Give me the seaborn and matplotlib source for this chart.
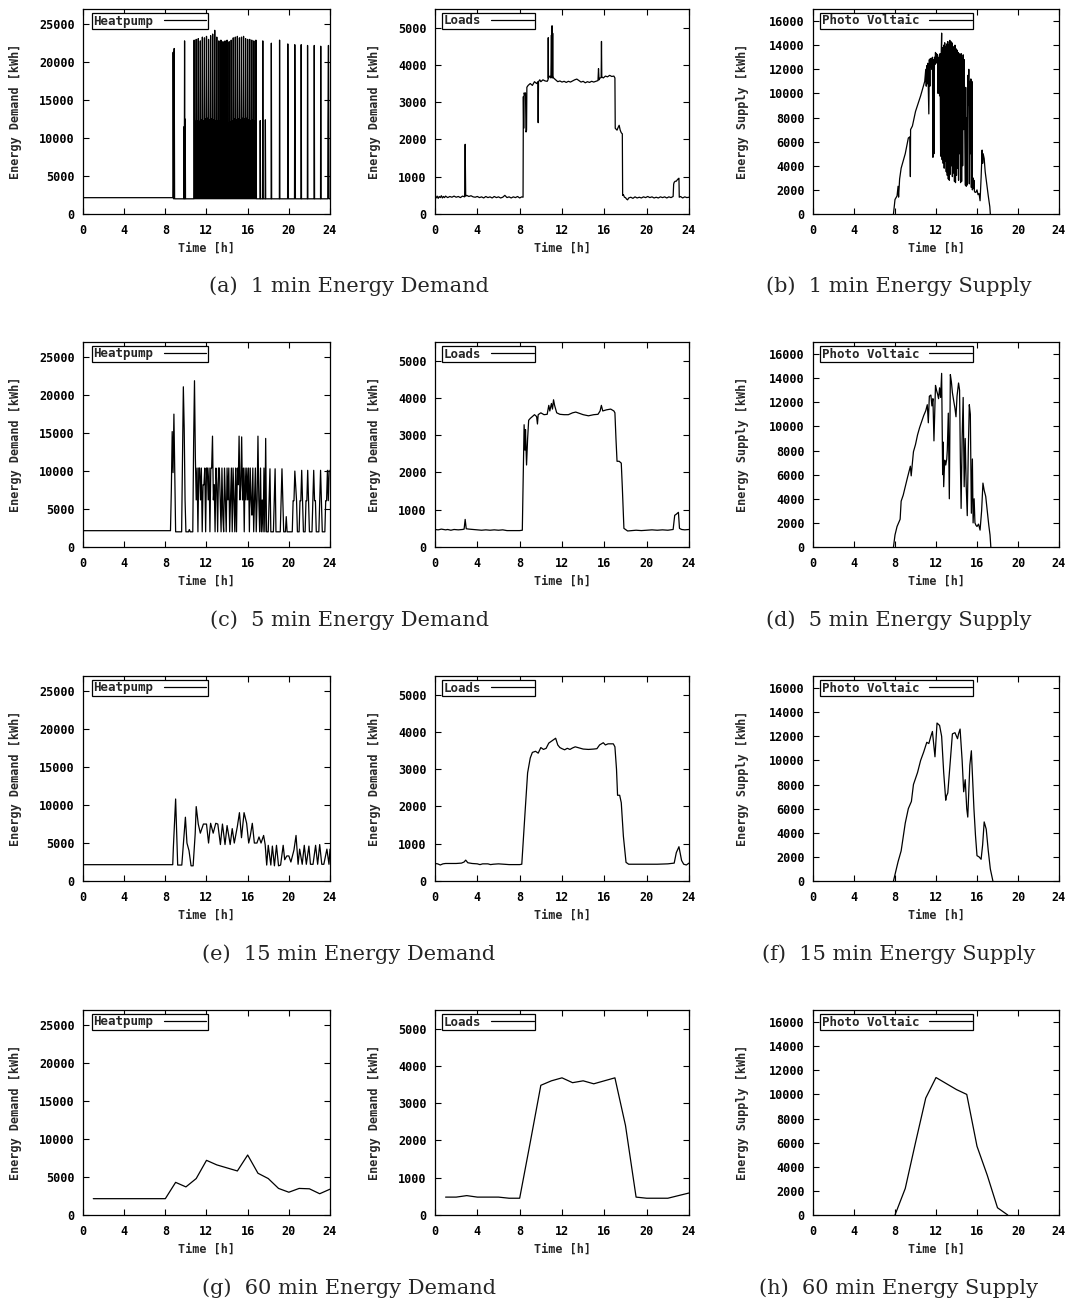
import numpy as np
import matplotlib
matplotlib.use("Agg")
import matplotlib.pyplot as plt
import seaborn as sns

# ---------------- data ----------------
time_ticks = [0, 4, 8, 12, 16, 20, 24]
hp_yticks = [0, 5000, 10000, 15000, 20000, 25000]
ld_yticks = [0, 1000, 2000, 3000, 4000, 5000]
pv_yticks = [0, 2000, 4000, 6000, 8000, 10000, 12000, 14000, 16000]
hp_ymax, ld_ymax, pv_ymax = 27000, 5500, 17000

series_labels = ["Heatpump", "Loads", "Photo Voltaic"]
ylabels = ["Energy Demand [kWh]", "Energy Demand [kWh]", "Energy Supply [kWh]"]
xlabel = "Time [h]"
captions_left = ["(a)  1 min Energy Demand", "(c)  5 min Energy Demand",
                 "(e)  15 min Energy Demand", "(g)  60 min Energy Demand"]
captions_right = ["(b)  1 min Energy Supply", "(d)  5 min Energy Supply",
                  "(f)  15 min Energy Supply", "(h)  60 min Energy Supply"]

# ---- 1 min heat pump ----
hp1_pre_t = [0.0, 8.74, 8.76, 8.80, 8.86, 8.90, 9.80, 9.82, 9.84, 9.87, 9.90, 9.93, 9.96, 10.76]
hp1_pre_v = [2150, 2150, 21300, 2000, 21800, 2000, 2000, 11500, 2000, 22800, 2000, 12500, 2000, 2000]
hp1_dense_start, hp1_dense_step = 10.80, 0.05
hp1_dense_v = [
    22900, 2000, 12200, 2000, 23000, 2000, 12300, 2000, 23100, 2000, 12200, 2000,
    22800, 2000, 12400, 2000, 23300, 2000, 12300, 2000, 23200, 2000, 12500, 2000,
    23400, 2000, 12600, 2000, 23000, 2000, 12400, 2000, 23500, 2000, 12500, 2000,
    23700, 2000, 12400, 2000, 24200, 2000, 12300, 2000, 23300, 2000, 12300, 2000,
    22800, 2000, 12200, 2000, 22900, 2000, 12400, 2000, 22700, 2000, 12300, 2000,
    22800, 2000, 12100, 2000, 22900, 2000, 12000, 2000, 22700, 2000, 12100, 2000,
    22900, 2000, 12300, 2000, 23200, 2000, 12500, 2000, 23300, 2000, 12400, 2000,
    23400, 2000, 12500, 2000, 23200, 2000, 12400, 2000, 23300, 2000, 12600, 2000,
    23400, 2000, 12500, 2000, 23100, 2000, 12600, 2000, 23000, 2000, 12400, 2000,
    23000, 2000, 12300, 2000, 22900, 2000, 12400, 2000, 22800, 2000, 12300, 2000,
    22900]
hp1_post_t = [16.85, 17.20, 17.22, 17.25, 17.45, 17.47, 17.50, 17.70, 17.72, 17.75,
              18.28, 18.30, 18.33, 19.08, 19.10, 19.13, 19.88, 19.90, 19.93, 19.96,
              20.55, 20.58, 20.61, 20.64, 21.18, 21.20, 21.23, 21.80, 21.82, 21.85,
              22.45, 22.47, 22.50, 23.08, 23.10, 23.13, 23.78, 23.80, 23.85, 23.90, 23.98]
hp1_post_v = [2000, 2000, 12300, 2000, 2000, 22800, 2000, 2000, 12400, 2000,
              2000, 22500, 2000, 2000, 22900, 2000, 2000, 22400, 12000, 2000,
              2000, 22300, 11800, 2000, 2000, 22300, 2000, 2000, 22200, 2000,
              2000, 22200, 2000, 2000, 22100, 2000, 2000, 12100, 22200, 2000, 2000]

# ---- 1 min loads ----
ld1_t = [0.0, 0.1, 0.2, 0.3, 0.4, 0.5, 0.6, 0.7, 0.8, 0.9, 1.0, 1.2, 1.4, 1.6, 1.8, 2.0,
         2.2, 2.4, 2.6, 2.8, 2.85, 2.9, 3.0, 3.2, 3.4, 3.6, 3.8, 4.0, 4.2, 4.4, 4.6, 4.8,
         5.0, 5.2, 5.4, 5.6, 5.8, 6.0, 6.2, 6.4, 6.6, 6.8, 7.0, 7.2, 7.4, 7.6, 7.8, 8.0,
         8.2, 8.32, 8.35, 8.38, 8.42, 8.5, 8.55, 8.6, 8.65, 8.68, 8.8, 9.0, 9.2, 9.4, 9.6,
         9.72, 9.75, 9.78, 9.9, 10.0, 10.2, 10.4, 10.6, 10.68, 10.7, 10.72, 10.85, 10.95,
         11.0, 11.03, 11.06, 11.09, 11.12, 11.15, 11.2, 11.4, 11.6, 11.8, 12.0, 12.2, 12.4,
         12.6, 12.8, 13.0, 13.2, 13.4, 13.6, 13.8, 14.0, 14.2, 14.4, 14.6, 14.8, 15.0, 15.2,
         15.4, 15.45, 15.5, 15.6, 15.7, 15.73, 15.76, 15.9, 16.1, 16.3, 16.5, 16.7, 16.9,
         17.0, 17.03, 17.1, 17.2, 17.3, 17.4, 17.5, 17.6, 17.7, 17.73, 17.8, 17.9, 18.0,
         18.1, 18.2, 18.3, 18.5, 18.7, 18.9, 19.1, 19.3, 19.5, 19.7, 19.9, 20.1, 20.3, 20.5,
         20.7, 20.9, 21.1, 21.3, 21.5, 21.7, 21.9, 22.1, 22.3, 22.5, 22.55, 22.6, 22.7, 22.8,
         22.9, 23.0, 23.05, 23.08, 23.2, 23.4, 23.6, 23.8, 24.0]
ld1_v = [470, 430, 480, 420, 470, 440, 490, 430, 470, 440, 480, 440, 470, 450, 480, 450,
         470, 440, 480, 460, 1870, 480, 500, 470, 490, 460, 450, 470, 440, 460, 430, 470,
         440, 460, 430, 470, 440, 460, 430, 450, 500, 440, 460, 430, 460, 440, 470, 430,
         460, 450, 3150, 2300, 3250, 3200, 3250, 2200, 2250, 3400, 3450, 3500, 3450, 3550, 3500,
         3550, 2450, 3550, 3600, 3550, 3600, 3570, 3560, 3600, 4730, 3650, 3700, 3650,
         4800, 3700, 5050, 3650, 4850, 3700, 3650, 3600, 3550, 3570, 3540, 3560, 3530,
         3560, 3540, 3570, 3600, 3620, 3580, 3540, 3560, 3520, 3550, 3530, 3560, 3540, 3560,
         3580, 3900, 3600, 3650, 3660, 4630, 3680, 3650, 3700, 3680, 3720, 3690, 3700,
         3650, 2300, 2280, 2250, 2320, 2380, 2250, 2180, 2150, 500, 520, 450, 440,
         400, 380, 430, 450, 420, 460, 430, 450, 430, 460, 440, 470, 440, 460,
         430, 450, 430, 460, 440, 460, 430, 460, 440, 470, 800, 850, 880, 880,
         920, 950, 960, 450, 470, 430, 460, 440, 450]

# ---- 1 min photovoltaic ----
pv1_pre_t = [7.85, 8.0, 8.2, 8.3, 8.35, 8.45, 8.6, 9.0, 9.3, 9.45, 9.5, 9.52, 9.7,
             10.0, 10.5, 10.9]
pv1_pre_v = [0, 1200, 1500, 2300, 1400, 2900, 3800, 5000, 6300, 6400, 3100, 7000, 7300,
             8500, 9800, 11000]
pv1_dense_start, pv1_dense_step = 11.00, 0.05
pv1_dense_v = [
    12000, 10600, 12300, 10800, 12500, 10500, 8300, 12800, 10600, 12900,
    12200, 12900, 12000, 13000, 4700, 12800, 5000, 13000, 12400, 13400,
    12600, 13300, 12500, 13200, 10000, 13000, 12000, 9800, 13300, 4800,
    13000, 15000, 4500, 13800, 4200, 14000, 3800, 14200, 4400, 13900,
    3500, 14100, 3200, 14300, 2900, 14000, 2800, 14400, 3300, 14300,
    4000, 14200, 3100, 13900, 3400, 13800, 2700, 14000, 2600, 13700,
    3200, 13600, 3800, 13400, 2800, 13300, 5000, 12500, 2600, 13300,
    2700, 12900, 4000, 13200, 7000, 12800, 7000, 2400, 10500, 2300,
    8000, 2400, 11500, 9000, 12000, 2500, 11000, 5000, 11200, 2200,
    11000, 2000, 3000, 2100, 2800, 1900, 1800]
pv1_post_t = [15.9, 16.0, 16.1, 16.2, 16.3, 16.4, 16.5, 16.55, 16.6, 16.7, 16.8, 16.95,
              17.1, 17.25, 17.3]
pv1_post_v = [1800, 2000, 1600, 1700, 1100, 3000, 5300, 4200, 5000, 4600, 3500, 2500,
              1500, 600, 0]

# ---- 5 min heat pump (5 min samples from 8.5 h) ----
hp5_start, hp5_step = 8.5, 1 / 12
hp5_pre_t, hp5_pre_v = [0.0], [2150]
hp5_v = [
    2150, 7500, 15200, 9800, 17500, 9900,
    2000, 2000, 2000, 2000, 2000, 2000, 2000, 2000, 11500, 21100, 15600, 6200,
    2000, 2000, 2000, 2000, 2300, 2000, 2000, 2000, 2000, 13800, 21900, 11900,
    6200, 10400, 2000, 10400, 10400, 6200, 10400, 2000, 8200, 8200, 10400, 2000,
    10400, 10400, 6200, 10400, 2000, 10400, 10400, 14600, 6200, 8200, 2000, 10400,
    8200, 2000, 10400, 10400, 6200, 2000, 10400, 4200, 2000, 10400, 6200, 2000,
    10400, 6200, 10400, 2000, 6200, 10400, 2000, 10400, 6200, 2000, 10400, 2000,
    10400, 8200, 14600, 6200, 8200, 14500, 6200, 10400, 2000, 10400, 6200, 10400,
    6200, 10400, 2000, 10400, 6200, 4200, 10400, 2000, 6200, 10400, 2000, 6200,
    14600, 6200, 2000, 10400, 2000, 6200, 2000, 10400, 2000, 14300, 2000, 2000,
    2000, 6200, 10300, 2000, 2000, 2000, 2000, 6200, 10300, 2000, 2000, 2000,
    2000, 2000, 2000, 6200, 10300, 6200, 2000, 2000, 2000, 4000, 2000, 2000,
    2000, 2000, 2000, 2000, 2000, 6100, 6100, 10000, 8000, 6100, 2000, 2000,
    2000, 6100, 6100, 10100, 6100, 2000, 2000, 2000, 6100, 6100, 10100, 6100,
    2000, 2000, 2000, 2000, 6100, 10100, 6100, 6100, 2000, 2000, 2000, 2000,
    6100, 10100, 6100, 2000, 2000, 2000, 2000, 6100, 6100, 10100, 6100, 10100]

# ---- 5 min loads ----
ld5_t = [0.0, 0.3, 0.6, 1.0, 1.2, 1.5, 1.8, 2.2, 2.6, 2.75, 2.85, 2.95, 3.2, 3.6, 4.0, 4.4,
         4.8, 5.2, 5.6, 6.0, 6.4, 6.8, 7.2, 7.6, 8.0, 8.25, 8.33, 8.42, 8.5, 8.55, 8.65,
         8.75, 8.85, 9.0, 9.2, 9.4, 9.6, 9.68, 9.75, 10.0, 10.3, 10.6, 10.75, 10.85, 11.0,
         11.1, 11.2, 11.3, 11.5, 11.8, 12.2, 12.6, 13.0, 13.3, 13.7, 14.0, 14.5, 15.0, 15.4,
         15.6, 15.72, 15.85, 16.2, 16.6, 16.9, 17.0, 17.1, 17.2, 17.4, 17.6, 17.7, 17.85,
         18.2, 18.6, 19.0, 19.5, 20.0, 20.5, 21.0, 21.5, 22.0, 22.5, 22.65, 22.8, 23.0,
         23.1, 23.3, 23.6, 24.0]
ld5_v = [470, 460, 480, 460, 470, 450, 470, 460, 470, 480, 740, 490, 480, 470, 460, 450,
         460, 450, 460, 450, 460, 440, 440, 440, 440, 450, 1800, 3280, 2600, 3150, 2200,
         2900, 3400, 3450, 3500, 3550, 3500, 3300, 3550, 3600, 3550, 3560, 3800, 3650, 3850,
         3700, 3950, 3800, 3600, 3560, 3550, 3550, 3600, 3620, 3580, 3550, 3520, 3550, 3560,
         3650, 3800, 3650, 3680, 3700, 3650, 3600, 2900, 2300, 2300, 2250, 1600, 500,
         430, 440, 450, 440, 450, 460, 450, 460, 450, 470, 850, 880, 930,
         500, 470, 460, 470]

# ---- 5 min photovoltaic ----
pv5_t = [7.85, 8.0, 8.2, 8.35, 8.5, 8.6, 8.8, 9.0, 9.2, 9.35, 9.5, 9.58, 9.7, 9.8, 10.0,
         10.2, 10.4, 10.6, 10.8, 11.0, 11.15, 11.25, 11.35, 11.5, 11.6, 11.7, 11.8, 11.95,
         12.05, 12.15, 12.25, 12.35, 12.45, 12.55, 12.65, 12.7, 12.75, 12.85, 12.95, 13.05,
         13.1, 13.2, 13.3, 13.4, 13.5, 13.6, 13.75, 13.85, 13.95, 14.05, 14.2, 14.3, 14.38,
         14.45, 14.55, 14.65, 14.75, 14.85, 14.95, 15.05, 15.15, 15.25, 15.35, 15.45, 15.55,
         15.62, 15.72, 15.8, 15.9, 16.0, 16.15, 16.3, 16.45, 16.58, 16.7, 16.85, 17.0,
         17.15, 17.27, 17.35]
pv5_v = [0, 1000, 1700, 2000, 2300, 3800, 4300, 5000, 5700, 6200, 6700, 5900, 7000, 7900, 8500,
         9300, 9900, 10400, 10900, 11300, 11800, 10300, 12500, 12600, 11700, 12300, 8800, 13400,
         13000, 12700, 12300, 13200, 12400, 14400, 6000, 8700, 5000, 7200, 6800, 7300,
         8000, 11100, 4000, 14300, 13700, 12800, 12000, 11500, 10800, 12500, 13600, 13000, 7000,
         3200, 9000, 12400, 5000, 9000, 5000, 2600, 8000, 11800, 11000, 2800, 7300,
         2000, 4000, 2000, 1800, 1700, 1900, 1400, 3000, 5300, 4700, 4200, 3000,
         1800, 1000, 0]

# ---- 15 min heat pump ----
hp15_t = [0.0, 8.72, 8.78, 9.0, 9.2, 9.6, 9.95, 10.1, 10.3, 10.5, 10.7, 10.9, 11.0, 11.2,
          11.4, 11.7, 12.0, 12.2, 12.4, 12.65, 12.9, 13.1, 13.35, 13.55, 13.8, 14.0, 14.3,
          14.5, 14.7, 15.0, 15.2, 15.4, 15.65, 15.9, 16.1, 16.25, 16.45, 16.65, 16.9, 17.1,
          17.3, 17.55, 17.7, 17.85, 18.0, 18.25, 18.4, 18.6, 18.8, 19.0, 19.2, 19.45, 19.6,
          19.8, 20.0, 20.2, 20.5, 20.7, 20.9, 21.05, 21.3, 21.5, 21.7, 21.95, 22.1, 22.35,
          22.6, 22.8, 23.0, 23.2, 23.4, 23.7, 23.9, 24.0]
hp15_v = [2150, 2150, 4400, 10800, 2100, 2100, 8400, 5000, 4000, 2000, 2000, 6200, 9800, 7500,
          6300, 7500, 7500, 5000, 7600, 6300, 7600, 7500, 4800, 7500, 4800, 7300, 4800,
          6900, 5000, 7200, 9000, 5700, 9000, 7600, 5000, 5900, 7600, 5000, 5000, 5800,
          5000, 6000, 4800, 2100, 4700, 2100, 4600, 2000, 4700, 2000, 2100, 4700, 2800,
          3300, 3300, 2500, 4100, 6000, 2200, 4200, 2200, 4700, 2200, 4600, 2200, 2200,
          4700, 2200, 4800, 2200, 2200, 4200, 2200, 4200]

# ---- 15 min loads ----
ld15_t = [0.0, 0.25, 0.5, 0.75, 1.0, 1.5, 2.0, 2.5, 2.75, 2.9, 3.1, 3.5, 4.0, 4.25, 4.5,
          5.0, 5.25, 5.5, 6.0, 6.5, 7.0, 7.5, 8.0, 8.2, 8.5, 8.75, 9.0, 9.2, 9.5, 9.75,
          10.0, 10.25, 10.5, 10.75, 11.0, 11.4, 11.6, 11.8, 12.0, 12.25, 12.5, 12.75, 13.0,
          13.25, 13.5, 13.75, 14.0, 14.5, 15.0, 15.3, 15.55, 15.9, 16.1, 16.35, 16.6, 16.85,
          17.0, 17.15, 17.25, 17.45, 17.6, 17.8, 18.05, 18.3, 19.0, 20.0, 21.0, 22.0, 22.6,
          22.8, 23.05, 23.3, 23.5, 23.75, 24.0]
ld15_v = [470, 460, 430, 460, 470, 470, 470, 480, 510, 560, 490, 470, 460, 440, 460,
          460, 440, 450, 460, 450, 440, 440, 440, 450, 1800, 2900, 3300, 3450, 3480, 3430,
          3580, 3530, 3560, 3700, 3750, 3830, 3650, 3580, 3550, 3520, 3560, 3530, 3570,
          3600, 3580, 3560, 3540, 3530, 3540, 3550, 3650, 3710, 3650, 3680, 3680, 3680,
          3600, 3000, 2300, 2300, 2100, 1200, 500, 450, 450, 450, 450, 460, 480,
          760, 920, 550, 450, 430, 480]

# ---- 15 min photovoltaic ----
pv15_t = [7.85, 8.3, 8.6, 9.0, 9.3, 9.6, 9.8, 10.2, 10.5, 10.8, 11.1, 11.3, 11.5, 11.65,
          11.9, 12.1, 12.35, 12.55, 12.75, 12.95, 13.0, 13.15, 13.4, 13.6, 13.85, 14.1,
          14.2, 14.35, 14.55, 14.7, 14.85, 15.0, 15.1, 15.3, 15.45, 15.7, 15.85, 16.0,
          16.2, 16.4, 16.55, 16.7, 16.9, 17.1, 17.3, 17.55]
pv15_v = [0, 1600, 2500, 4800, 6000, 6600, 8000, 9000, 10000, 10700, 11500, 11400, 12000, 12400,
          10300, 13100, 12900, 12000, 9000, 6700, 7000, 7300, 10000, 12200, 12300, 11800,
          12200, 12600, 10000, 7400, 8400, 6000, 5300, 9600, 10800, 6000, 3800, 2100,
          2000, 1800, 3000, 4900, 4300, 2500, 1000, 0]

# ---- 60 min ----
hp60_t = [1, 2, 3, 4, 5, 6, 7, 8, 9, 10, 11, 12, 13, 14, 15, 16, 17, 18, 19, 20, 21, 22, 23, 24]
hp60_v = [2150, 2150, 2150, 2150, 2150, 2150, 2150, 2150, 4300, 3700, 4800, 7200, 6600, 6200,
          5800, 7900, 5500, 4800, 3500, 3000, 3500, 3450, 2800, 3400]
ld60_t = [1, 2, 3, 4, 5, 6, 7, 8, 9, 10, 11, 12, 13, 14, 15, 16, 17, 18, 19, 20, 21, 22, 23, 24]
ld60_v = [480, 480, 520, 480, 480, 480, 450, 450, 1950, 3480, 3600, 3680, 3550, 3600,
          3520, 3600, 3680, 2400, 480, 450, 450, 450, 520, 590]
pv60_t = [8, 9, 10, 11, 12, 13, 14, 15, 16, 17, 18, 19]
pv60_v = [0, 2200, 6000, 9700, 11400, 10900, 10400, 10000, 5700, 3300, 600, 0]

# ---------------- assemble series ----------------
def grid(start, step, n):
    return list(np.round(start + step * np.arange(n), 4))

hp1_t = hp1_pre_t + grid(hp1_dense_start, hp1_dense_step, len(hp1_dense_v)) + hp1_post_t
hp1_v = hp1_pre_v + hp1_dense_v + hp1_post_v
pv1_t = pv1_pre_t + grid(pv1_dense_start, pv1_dense_step, len(pv1_dense_v)) + pv1_post_t
pv1_v = pv1_pre_v + pv1_dense_v + pv1_post_v
hp5_t = hp5_pre_t + grid(hp5_start, hp5_step, len(hp5_v))
hp5_v = hp5_pre_v + hp5_v

rows = [
    [(hp1_t, hp1_v), (ld1_t, ld1_v), (pv1_t, pv1_v)],
    [(hp5_t, hp5_v), (ld5_t, ld5_v), (pv5_t, pv5_v)],
    [(hp15_t, hp15_v), (ld15_t, ld15_v), (pv15_t, pv15_v)],
    [(hp60_t, hp60_v), (ld60_t, ld60_v), (pv60_t, pv60_v)],
]
col_ymax = [hp_ymax, ld_ymax, pv_ymax]
col_yticks = [hp_yticks, ld_yticks, pv_yticks]

# ---------------- style ----------------
sns.set_theme(style="ticks")
plt.rcParams["font.family"] = ["DejaVu Sans Mono"]
plt.rcParams["font.weight"] = "bold"
plt.rcParams["axes.edgecolor"] = "black"
plt.rcParams["axes.linewidth"] = 0.9

W, H = 1075, 1304
fig = plt.figure(figsize=(W / 100, H / 100), dpi=100)
fig.patch.set_facecolor("white")

col_left = [83, 435, 813]
col_w = [247, 254, 246]
row_top = [9, 342, 676, 1010]
ax_h = 205
ylabel_x = [-0.275, -0.24, -0.285]
legend_dx = [9, 7, 7]
tick_fs = 8.5

for r, row in enumerate(rows):
    for c, (t, v) in enumerate(row):
        l, w = col_left[c], col_w[c]
        top = row_top[r]
        ax = fig.add_axes([l / W, 1 - (top + ax_h) / H, w / W, ax_h / H])
        ax.set_facecolor("white")
        sns.lineplot(x=t, y=v, ax=ax, color="black", linewidth=0.9,
                     estimator=None, sort=False, label=series_labels[c])
        ax.set_xlim(0, 24)
        ax.set_ylim(0, col_ymax[c])
        ax.set_xticks(time_ticks)
        ax.set_yticks(col_yticks[c])
        ax.tick_params(axis="both", direction="in", length=4, width=0.8,
                       top=True, right=True, labelsize=tick_fs, colors="black")
        ax.tick_params(axis="x", pad=7)
        ax.tick_params(axis="y", pad=6)
        for lab in ax.get_xticklabels() + ax.get_yticklabels():
            lab.set_fontweight("bold")
        for sp in ax.spines.values():
            sp.set_visible(True)
            sp.set_color("black")
            sp.set_linewidth(0.9)
        ax.set_xlabel(xlabel, fontsize=tick_fs, fontweight="bold")
        ax.set_ylabel(ylabels[c], fontsize=tick_fs, fontweight="bold")
        ax.xaxis.set_label_coords(0.5, -0.166)
        ax.xaxis.label.set_verticalalignment("center")
        ax.yaxis.set_label_coords(ylabel_x[c], 0.5)
        ax.yaxis.label.set_verticalalignment("center")
        leg = ax.legend(loc="upper left",
                        bbox_to_anchor=(legend_dx[c] / w, 1 - 4 / ax_h),
                        markerfirst=False, frameon=True,
                        fancybox=False, edgecolor="black", framealpha=1,
                        borderpad=0.12, borderaxespad=0.0, handlelength=3.4,
                        handletextpad=0.8,
                        prop={"family": "DejaVu Sans Mono", "weight": "bold",
                              "size": 9})
        leg.get_frame().set_linewidth(0.9)

cap_y = [286, 620, 954, 1288]
for r in range(4):
    fig.text(349 / W, 1 - cap_y[r] / H, captions_left[r], ha="center", va="center",
             family="DejaVu Serif", fontsize=15, fontweight="normal")
    fig.text(899 / W, 1 - cap_y[r] / H, captions_right[r], ha="center", va="center",
             family="DejaVu Serif", fontsize=15, fontweight="normal")

fig.savefig("out.png", dpi=100, facecolor="white")
